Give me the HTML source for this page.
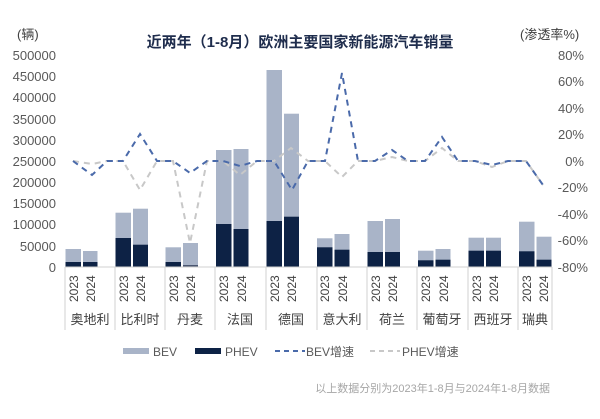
<!DOCTYPE html>
<html><head><meta charset="utf-8"><style>
html,body{margin:0;padding:0;background:#fff;}
svg{display:block;font-family:"Liberation Sans","Noto Sans CJK SC",sans-serif;}
</style></head><body>
<svg width="600" height="419" viewBox="0 0 600 419" xmlns="http://www.w3.org/2000/svg">
<rect width="600" height="419" fill="#fff"/>
<text x="300" y="47" text-anchor="middle" font-size="15" font-weight="bold" fill="#1f2d4d">近两年（1-8月）欧洲主要国家新能源汽车销量</text>
<text x="17" y="39" font-size="13" fill="#404040">(辆)</text>
<text x="520" y="39" font-size="13" fill="#404040">(渗透率%)</text>
<g font-size="13" fill="#595959" text-anchor="end">
<text x="56" y="60">500000</text><text x="56" y="81">450000</text><text x="56" y="102">400000</text><text x="56" y="124">350000</text><text x="56" y="145">300000</text><text x="56" y="166">250000</text><text x="56" y="187">200000</text><text x="56" y="208">150000</text><text x="56" y="229">100000</text><text x="56" y="251">50000</text><text x="56" y="272">0</text>
</g>
<g font-size="13" fill="#595959" text-anchor="end">
<text x="584" y="60">80%</text><text x="584" y="86">60%</text><text x="584" y="113">40%</text><text x="584" y="139">20%</text><text x="584" y="166">0%</text><text x="588" y="192">-20%</text><text x="588" y="219">-40%</text><text x="588" y="245">-60%</text><text x="588" y="272">-80%</text>
</g>
<g fill="#a9b4c8">
<rect x="65.5" y="249" width="15.5" height="18"/><rect x="83" y="251" width="14.5" height="16"/>
<rect x="115.5" y="212.7" width="15.5" height="54.3"/><rect x="133" y="208.7" width="15" height="58.3"/>
<rect x="165.5" y="247.3" width="15.5" height="19.7"/><rect x="183" y="243" width="15" height="24"/>
<rect x="216" y="150" width="15.5" height="117"/><rect x="233.5" y="149" width="15" height="118"/>
<rect x="266.5" y="70" width="15.5" height="197"/><rect x="284" y="113.7" width="15" height="153.3"/>
<rect x="317" y="238.3" width="15.5" height="28.7"/><rect x="334.5" y="234" width="15" height="33"/>
<rect x="367.5" y="221" width="15.5" height="46"/><rect x="385" y="219" width="15" height="48"/>
<rect x="418" y="250.7" width="15.5" height="16.3"/><rect x="435.5" y="249" width="15" height="18"/>
<rect x="468.5" y="237.7" width="15.5" height="29.3"/><rect x="486" y="237.7" width="15" height="29.3"/>
<rect x="519" y="221.7" width="15.5" height="45.3"/><rect x="536.5" y="236.7" width="15" height="30.3"/>
</g>
<g fill="#0d2245">
<rect x="65.5" y="262" width="15.5" height="5"/><rect x="83" y="262" width="14.5" height="5"/>
<rect x="115.5" y="238" width="15.5" height="29"/><rect x="133" y="244.7" width="15" height="22.3"/>
<rect x="165.5" y="262" width="15.5" height="5"/><rect x="183" y="265" width="15" height="2" fill="#4a5670"/>
<rect x="216" y="224" width="15.5" height="43"/><rect x="233.5" y="229" width="15" height="38"/>
<rect x="266.5" y="221" width="15.5" height="46"/><rect x="284" y="216.7" width="15" height="50.3"/>
<rect x="317" y="247.3" width="15.5" height="19.7"/><rect x="334.5" y="249.7" width="15" height="17.3"/>
<rect x="367.5" y="252" width="15.5" height="15"/><rect x="385" y="252" width="15" height="15"/>
<rect x="418" y="260.3" width="15.5" height="6.7"/><rect x="435.5" y="259.7" width="15" height="7.3"/>
<rect x="468.5" y="250.7" width="15.5" height="16.3"/><rect x="486" y="250.7" width="15" height="16.3"/>
<rect x="519" y="251.3" width="15.5" height="15.7"/><rect x="536.5" y="259.7" width="15" height="7.3"/>
</g>
<polyline fill="none" stroke="#c8c8c8" stroke-width="2" stroke-dasharray="6,5" points="73,161 92,164 107,161 123,161 140,190 157,161 173,161 190,243 207,161 223,161 240,175 257,161 274,161 291,148 308,161 325,161 342,177 358,161 375,161 392,157 408,161 425,161 442,148 458,161 475,161 492,167 508,161 526,161 543,185"/>
<polyline fill="none" stroke="#4a6aaa" stroke-width="2" stroke-dasharray="6,5" points="73,161 92,175 107,161 123,161 140,134 157,161 173,161 190,173 207,161 223,161 240,166 257,161 274,161 292,190 308,161 325,161 342,73 358,161 375,161 392,150 408,161 425,161 442,137 458,161 475,161 492,165 508,161 526,161 543,185"/>
<g stroke="#d0d0d0" stroke-width="1">
<line x1="65" y1="267" x2="552" y2="267"/>
<line x1="65" y1="267" x2="65" y2="330"/><line x1="115" y1="267" x2="115" y2="330"/><line x1="165" y1="267" x2="165" y2="330"/><line x1="215" y1="267" x2="215" y2="330"/><line x1="266" y1="267" x2="266" y2="330"/><line x1="317" y1="267" x2="317" y2="330"/><line x1="367" y1="267" x2="367" y2="330"/><line x1="417" y1="267" x2="417" y2="330"/><line x1="468" y1="267" x2="468" y2="330"/><line x1="518" y1="267" x2="518" y2="330"/><line x1="552" y1="267" x2="552" y2="330"/>
</g>
<g font-size="12" fill="#404040">
<text transform="translate(78,302) rotate(-90)">2023</text><text transform="translate(95,302) rotate(-90)">2024</text>
<text transform="translate(128,302) rotate(-90)">2023</text><text transform="translate(145,302) rotate(-90)">2024</text>
<text transform="translate(178,302) rotate(-90)">2023</text><text transform="translate(195,302) rotate(-90)">2024</text>
<text transform="translate(228,302) rotate(-90)">2023</text><text transform="translate(246,302) rotate(-90)">2024</text>
<text transform="translate(279,302) rotate(-90)">2023</text><text transform="translate(296,302) rotate(-90)">2024</text>
<text transform="translate(329,302) rotate(-90)">2023</text><text transform="translate(347,302) rotate(-90)">2024</text>
<text transform="translate(380,302) rotate(-90)">2023</text><text transform="translate(397,302) rotate(-90)">2024</text>
<text transform="translate(430,302) rotate(-90)">2023</text><text transform="translate(448,302) rotate(-90)">2024</text>
<text transform="translate(481,302) rotate(-90)">2023</text><text transform="translate(498,302) rotate(-90)">2024</text>
<text transform="translate(531,302) rotate(-90)">2023</text><text transform="translate(548,302) rotate(-90)">2024</text>
</g>
<g font-size="13" fill="#404040" text-anchor="middle">
<text x="90" y="324">奥地利</text><text x="140" y="324">比利时</text><text x="190" y="324">丹麦</text><text x="240" y="324">法国</text><text x="291" y="324">德国</text><text x="342" y="324">意大利</text><text x="392" y="324">荷兰</text><text x="442" y="324">葡萄牙</text><text x="493" y="324">西班牙</text><text x="535" y="324">瑞典</text>
</g>
<rect x="123" y="348" width="26" height="6" fill="#a9b4c8"/><text x="153" y="356" font-size="12" fill="#595959">BEV</text>
<rect x="195" y="348" width="26" height="6" fill="#0d2245"/><text x="225" y="356" font-size="12" fill="#595959">PHEV</text>
<line x1="275" y1="351" x2="305" y2="351" stroke="#4a6aaa" stroke-width="2" stroke-dasharray="5,4"/><text x="306" y="356" font-size="12" fill="#595959">BEV增速</text>
<line x1="370" y1="351" x2="400" y2="351" stroke="#c8c8c8" stroke-width="2" stroke-dasharray="5,4"/><text x="402" y="356" font-size="12" fill="#595959">PHEV增速</text>
<text x="550" y="392" text-anchor="end" font-size="11" fill="#a6a6a6">以上数据分别为2023年1-8月与2024年1-8月数据</text>
</svg>
</body></html>
